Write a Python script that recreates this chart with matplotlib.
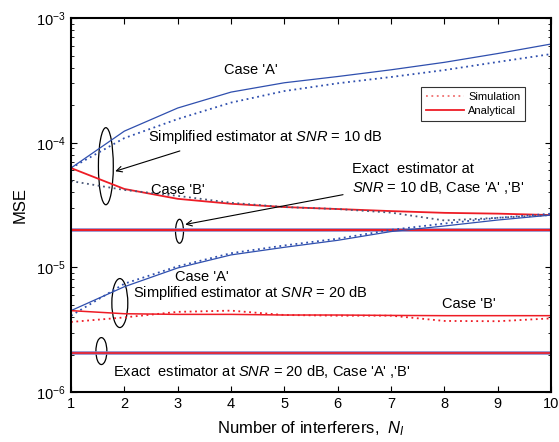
import matplotlib
matplotlib.use("Agg")
import matplotlib.pyplot as plt
from matplotlib.patches import Ellipse
import numpy as np

plt.rcParams['font.family'] = ['Liberation Sans', 'DejaVu Sans']
plt.rcParams['mathtext.fontset'] = 'custom'
plt.rcParams['mathtext.rm'] = 'Liberation Sans'
plt.rcParams['mathtext.it'] = 'Liberation Sans:italic'

# Number of interferers
n_int = [1, 2, 3, 4, 5, 6, 7, 8, 9, 10]

# SNR = 10 dB, simplified estimator
a10_ana = [6.27e-5, 1.24e-4, 1.90e-4, 2.55e-4, 3.03e-4, 3.40e-4, 3.85e-4, 4.42e-4, 5.2e-4, 6.2e-4]
a10_sim = [6.27e-5, 1.09e-4, 1.55e-4, 2.10e-4, 2.60e-4, 3.00e-4, 3.37e-4, 3.83e-4, 4.45e-4, 5.15e-4]
b10_ana = [6.27e-5, 4.26e-5, 3.55e-5, 3.24e-5, 3.05e-5, 2.94e-5, 2.83e-5, 2.74e-5, 2.70e-5, 2.63e-5]
b10_sim = [4.93e-5, 4.18e-5, 3.75e-5, 3.30e-5, 3.05e-5, 2.94e-5, 2.75e-5, 2.38e-5, 2.50e-5, 2.63e-5]

# SNR = 20 dB, simplified estimator
a20_ana = [4.5e-6, 7.0e-6, 9.9e-6, 1.26e-5, 1.45e-5, 1.65e-5, 1.94e-5, 2.15e-5, 2.40e-5, 2.63e-5]
a20_sim = [4.1e-6, 7.4e-6, 1.02e-5, 1.30e-5, 1.50e-5, 1.70e-5, 2.00e-5, 2.25e-5, 2.50e-5, 2.70e-5]
b20_ana = [4.5e-6, 4.25e-6, 4.2e-6, 4.2e-6, 4.15e-6, 4.15e-6, 4.12e-6, 4.1e-6, 4.1e-6, 4.1e-6]
b20_sim = [3.65e-6, 3.97e-6, 4.4e-6, 4.5e-6, 4.15e-6, 4.1e-6, 4.1e-6, 3.72e-6, 3.7e-6, 3.9e-6]

# Exact estimator
exact10 = [2.0e-5] * 10
exact20 = [2.05e-6] * 10

blue = '#2f4fae'
red = '#ee1c25'
dark = '#4a5878'

fig = plt.figure(figsize=(5.59, 4.42), dpi=100)
ax = fig.add_axes([0.127, 0.113, 0.859, 0.846])

ax.plot(n_int, exact10, color='#8a86c8', lw=2.6)
ax.plot(n_int, exact10, color=red, lw=1.4)
ax.plot(n_int, exact20, color='#8a86c8', lw=2.6)
ax.plot(n_int, exact20, color=red, lw=1.2)

ax.plot(n_int, a10_ana, color=blue, lw=0.9)
ax.plot(n_int, a10_sim, color=blue, lw=1.3, ls=(0, (1, 2)))
ax.plot(n_int, b10_ana, color=red, lw=1.3)
ax.plot(n_int, b10_sim, color=dark, lw=1.3, ls=(0, (1, 2)))

ax.plot(n_int, a20_ana, color=blue, lw=0.9)
ax.plot(n_int, a20_sim, color=blue, lw=1.3, ls=(0, (1, 2)))
ax.plot(n_int, b20_ana, color=red, lw=1.1)
ax.plot(n_int, b20_sim, color=red, lw=1.3, ls=(0, (1, 2)))

# legend proxies
ax.plot([], [], color='#f07070', lw=1.3, ls=(0, (1, 2)), label='Simulation')
ax.plot([], [], color=red, lw=1.3, label='Analytical')
leg = ax.legend(loc='upper right', bbox_to_anchor=(0.958, 0.83), fontsize=8,
                frameon=True, fancybox=False, edgecolor='black', handlelength=3.4,
                borderpad=0.45, labelspacing=0.3, handletextpad=0.4)
leg.get_frame().set_linewidth(0.8)

ax.set_yscale('log')
ax.set_xlim(1, 10)
ax.set_ylim(1e-6, 1e-3)
ax.set_xticks(n_int)
ax.tick_params(which='both', direction='in', top=True, right=True, labelsize=10.5)
ax.tick_params(which='major', length=4)
ax.tick_params(which='minor', length=2)
for s in ax.spines.values():
    s.set_linewidth(1.5)

ax.set_xlabel('Number of interferers,  $N_I$', fontsize=12, labelpad=6)
ax.set_ylabel('MSE', fontsize=12, labelpad=6)

fs = 10.5
ax.text(4.38, 3.83e-4, "Case 'A'", fontsize=fs, ha='center', va='center')
ax.text(2.44, 1.11e-4, "Simplified estimator at $SNR$ = 10 dB", fontsize=fs, ha='left', va='center')
ax.text(3.0, 4.17e-5, "Case 'B'", fontsize=fs, ha='center', va='center')
ax.text(6.27, 5.12e-5, "Exact  estimator at\n$SNR$ = 10 dB, Case 'A' ,'B'", fontsize=fs,
        ha='left', va='center', linespacing=1.3)
ax.text(3.46, 8.37e-6, "Case 'A'", fontsize=fs, ha='center', va='center')
ax.text(2.16, 6.22e-6, "Simplified estimator at $SNR$ = 20 dB", fontsize=fs, ha='left', va='center')
ax.text(8.45, 5.08e-6, "Case 'B'", fontsize=fs, ha='center', va='center')
ax.text(1.78, 1.45e-6, "Exact  estimator at $SNR$ = 20 dB, Case 'A' ,'B'", fontsize=fs,
        ha='left', va='center')

arrow = dict(arrowstyle='->', color='black', lw=0.8)
ax.annotate('', xy=(1.78, 5.82e-5), xytext=(3.09, 8.73e-5), arrowprops=arrow)
ax.annotate('', xy=(3.09, 2.19e-5), xytext=(6.15, 3.87e-5), arrowprops=arrow)

# ellipses marking curve groups (axes fraction)
for cx, cy, w, h in [(0.0726, 0.604, 0.031, 0.206), (0.226, 0.430, 0.0166, 0.064),
                     (0.1017, 0.238, 0.0332, 0.131), (0.0633, 0.1096, 0.0228, 0.072)]:
    ax.add_patch(Ellipse((cx, cy), w, h, transform=ax.transAxes, fill=False,
                         edgecolor='black', lw=0.9))

fig.savefig('out.png', dpi=100)
